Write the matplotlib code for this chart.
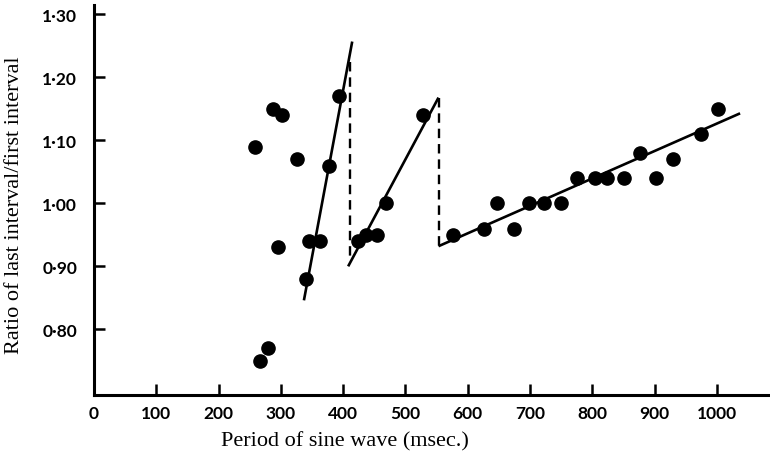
import numpy as np
import matplotlib
matplotlib.use("Agg")
import matplotlib.pyplot as plt

# data
period = [258, 266, 279, 287, 296, 302, 326, 341, 345, 363, 377, 394,
          423, 437, 455, 468, 528,
          576, 626, 647, 674, 699, 722, 750, 775, 804, 824, 851, 876, 902, 930, 975, 1002]
ratio = [1.09, 0.75, 0.77, 1.15, 0.93, 1.14, 1.07, 0.88, 0.94, 0.94, 1.06, 1.17,
         0.94, 0.95, 0.95, 1.00, 1.14,
         0.95, 0.96, 1.00, 0.96, 1.00, 1.00, 1.00, 1.04, 1.04, 1.04, 1.04, 1.08, 1.04, 1.07, 1.11, 1.15]

# fitted line segments
fit_x = [[337, 414.5], [408, 553], [553, 1037]]
fit_y = [[0.846, 1.257], [0.90, 1.168], [0.932, 1.143]]
# dashed drops
drop_x = [[411, 411], [553, 553]]
drop_y = [[1.225, 0.913], [1.168, 0.932]]

xticks = list(range(0, 1001, 100))
yticks = [0.80, 0.90, 1.00, 1.10, 1.20, 1.30]

fig = plt.figure(figsize=(7.7, 4.64), dpi=100)
ax = fig.add_axes([0.122, 0.147, 0.878, 0.84])

for xs, ys in zip(fit_x, fit_y):
    ax.plot(xs, ys, color="black", lw=1.9, solid_capstyle="butt")
for xs, ys in zip(drop_x, drop_y):
    ax.plot(xs, ys, color="black", lw=1.7, dashes=(4, 2.5))
ax.plot(period, ratio, "o", color="black", ms=9.5)

ax.set_xlim(0, 1085)
ax.set_ylim(0.696, 1.315)
ax.spines["top"].set_visible(False)
ax.spines["right"].set_visible(False)
ax.spines["left"].set_linewidth(2.2)
ax.spines["bottom"].set_linewidth(2.2)

ax.set_xticks(xticks)
ax.set_yticks(yticks)
ax.set_yticklabels([f"{v:.2f}".replace(".", "\u00b7") for v in yticks])
ax.tick_params(direction="in", length=8, width=1.8, labelsize=12.5)
ax.tick_params(axis="y", pad=12)
ax.tick_params(axis="x", pad=7)
for lab in ax.get_xticklabels() + ax.get_yticklabels():
    lab.set_family("Lato")
    lab.set_fontweight("bold")

ax.set_xlabel("Period of sine wave (msec.)", family="Liberation Serif", fontsize=16)
ax.set_ylabel("Ratio of last interval/first interval", family="Liberation Serif", fontsize=16)
ax.xaxis.set_label_coords(0.371, -0.093)
ax.yaxis.set_label_coords(-0.104, 0.49)

fig.savefig("out.png", dpi=100)
